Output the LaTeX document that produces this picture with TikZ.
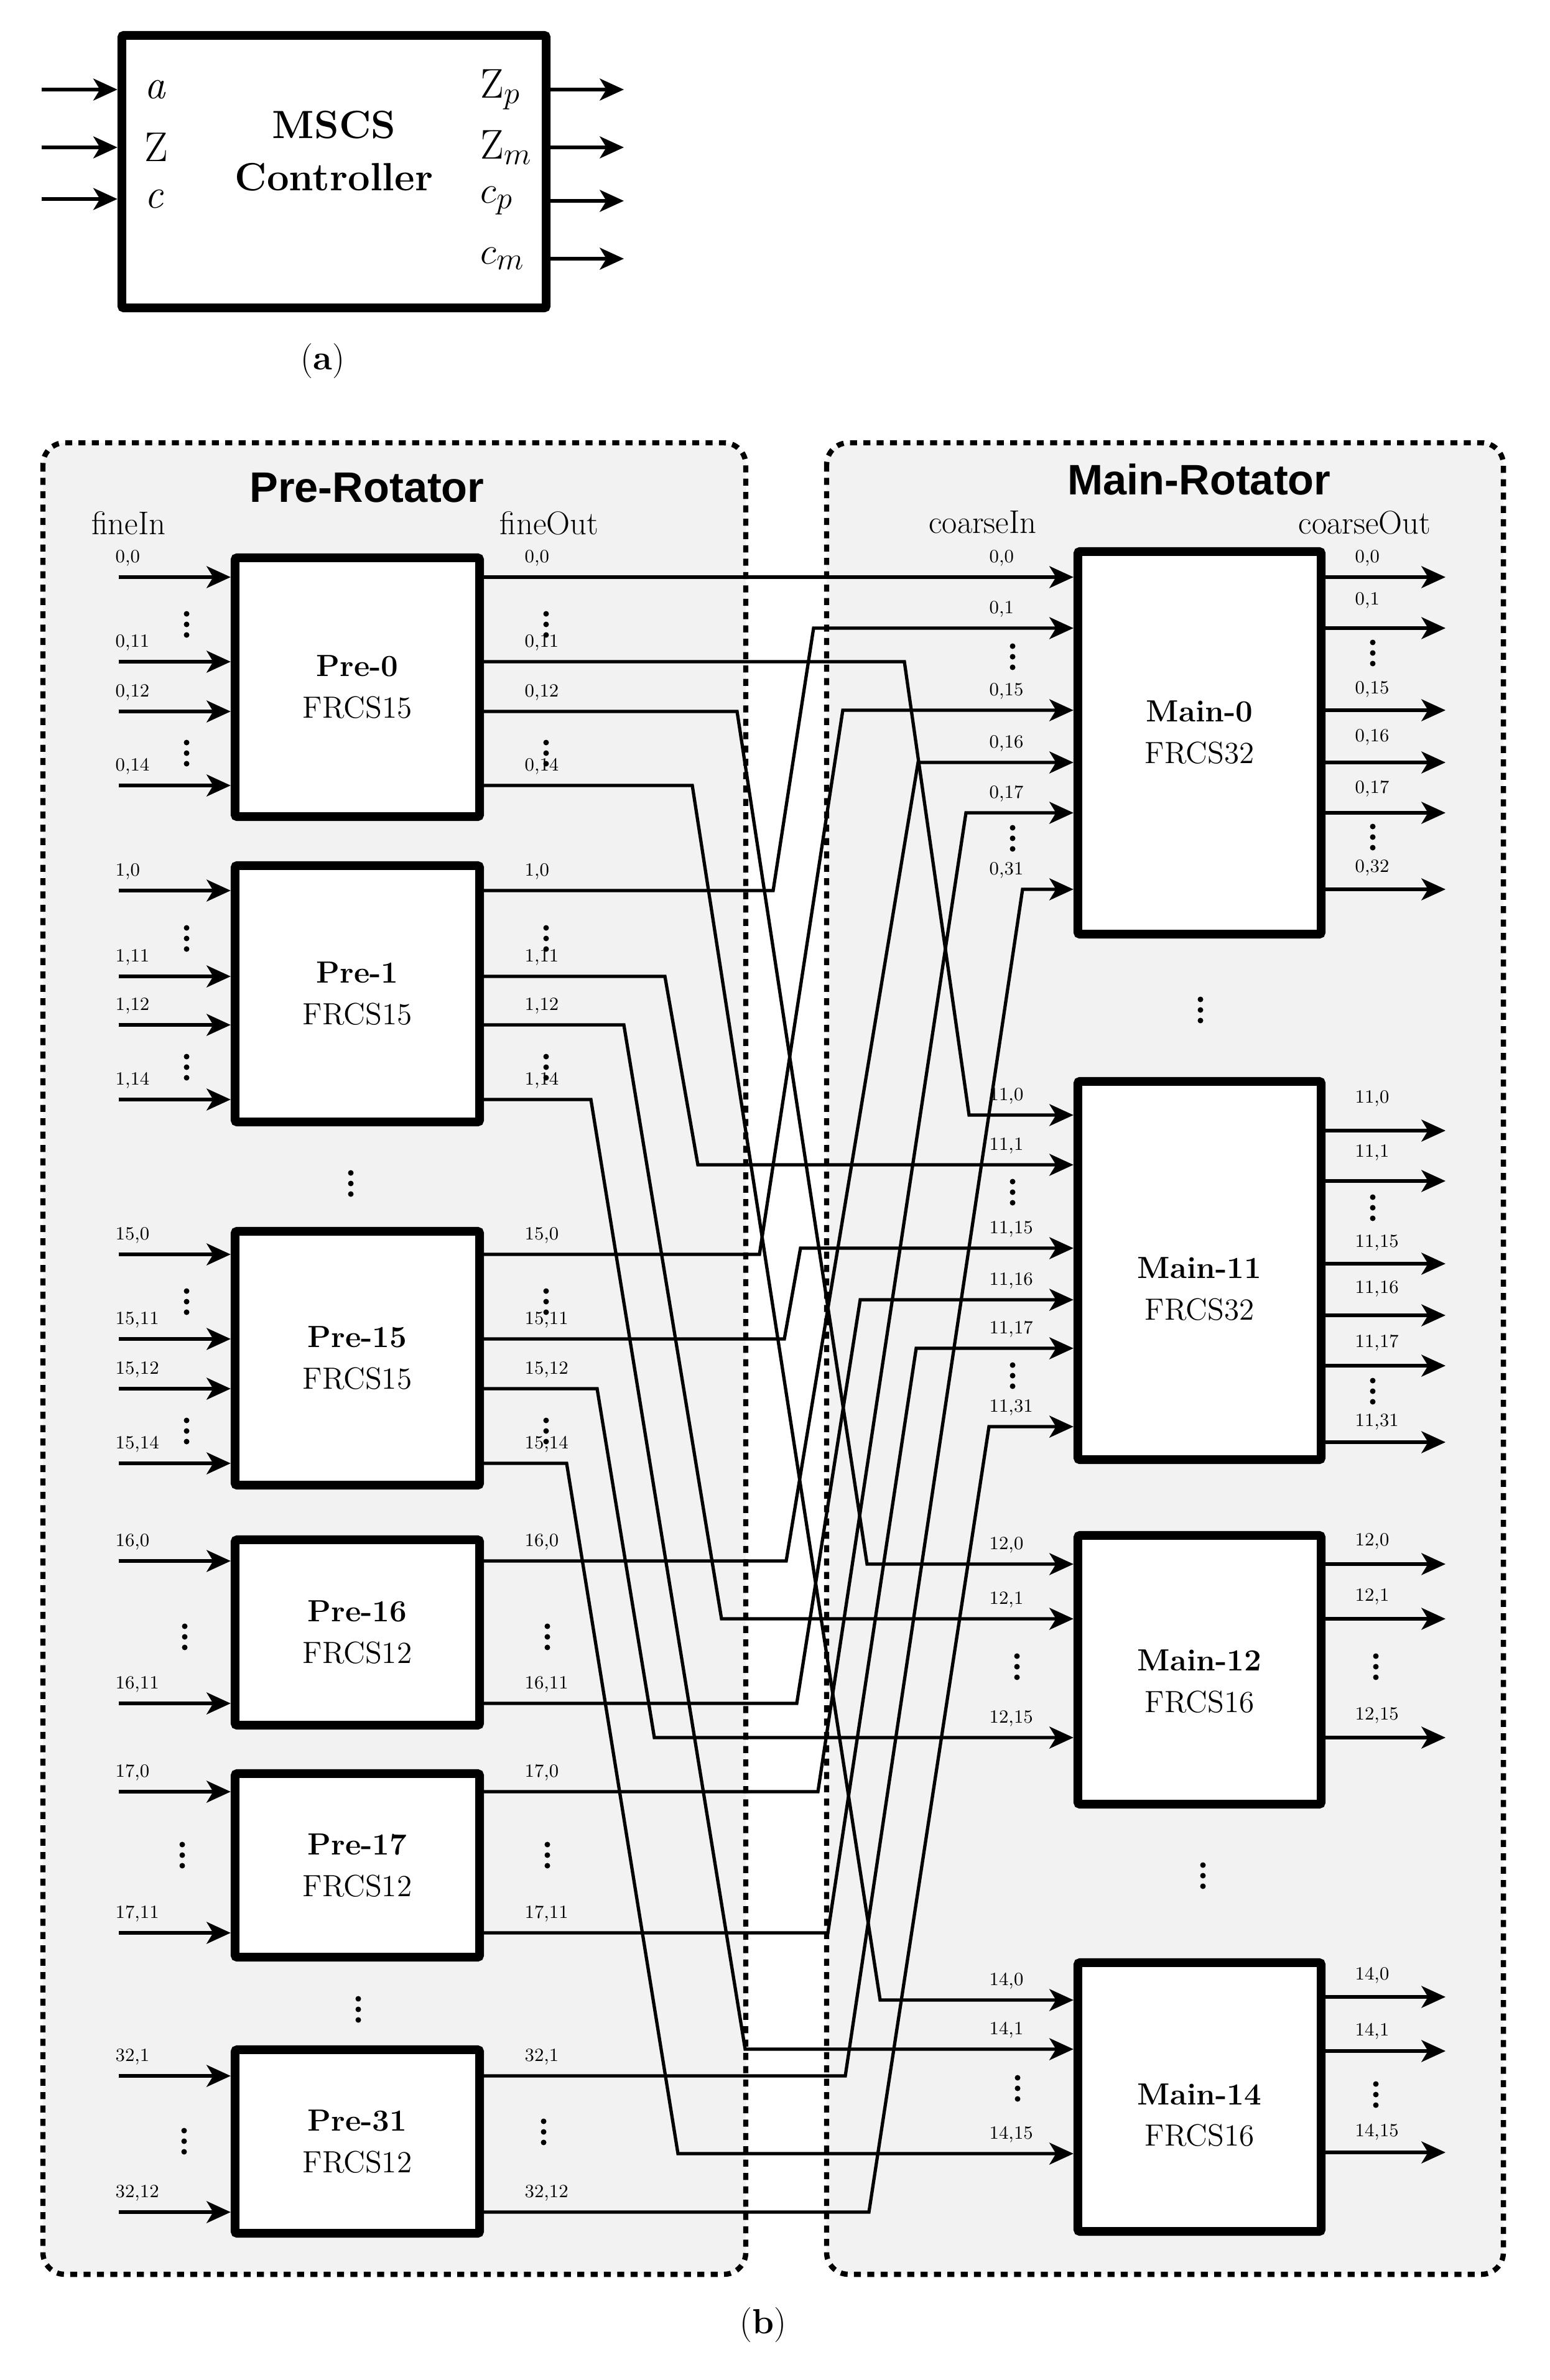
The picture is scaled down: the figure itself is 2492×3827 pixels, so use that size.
\documentclass[tikz,border=0pt]{standalone}
\usepackage{fontspec}
\newfontfamily\hsans{Liberation Sans}
\usetikzlibrary{arrows.meta}
\definecolor{bgg}{HTML}{F2F2F2}
\newcommand\pin[3]{\coordinate (q) at (191,#2); \draw[arr] (q) -- (q -| #1.west); \node[lab] at (185,#2-31) {#3};}
\newcommand\pout[4]{\coordinate (#4) at (#1.east |- 0,#2); \node[lab] at (843,#2-31) {#3};}
\newcommand\mainin[4]{\coordinate (#4) at (#1.west |- 0,#2); \node[lab] at (1590,#2-31) {#3};}
\newcommand\mainout[4]{\coordinate (q) at (#1.east |- 0,#2); \coordinate (q2) at (2324,#2); \draw[arr] (q) -- (q2); \node[lab] at (2178,#4) {#3};}
\newcommand\wire[4]{\draw[arr] (#1) -- (#1 -| #3,0) -- (#4,0 |- #2) -- (#2);}
\newcommand\vd[2]{\fill (#1,#2-17) circle[radius=4.5]; \fill (#1,#2) circle[radius=4.5]; \fill (#1,#2+17) circle[radius=4.5];}
\begin{document}
\begin{tikzpicture}[x=0.01cm,y=-0.01cm,
  blk/.style={draw,line width=4pt,fill=white,rounded corners=1pt,inner sep=0pt},
  arr/.style={line width=1.5pt,-{Stealth[length=11pt,width=10pt,inset=3pt]}},
  lab/.style={anchor=west,inner sep=0pt,font=\fontsize{8.5}{10}\selectfont},
  btxt/.style={align=center,font=\fontsize{14}{19}\selectfont},
  ttl/.style={font=\hsans\bfseries\fontsize{19.5}{22}\selectfont},
  hdr/.style={font=\fontsize{15}{18}\selectfont},
  frame/.style={draw,fill=bgg,line width=2.4pt,dash pattern=on 3.2pt off 2.9pt,rounded corners=0.35cm},
  big/.style={font=\fontsize{19}{22}\selectfont,anchor=west,inner sep=0pt}]
\useasboundingbox (0,0) rectangle (2492,3827);

% (a)
\node[blk,minimum width=6.82cm,minimum height=4.38cm] (ctl) at (537,276) {};
\node[align=center,font=\bfseries\fontsize{18}{24}\selectfont] (ctlt) at (537,243) {MSCS\\Controller};
\foreach \y/\t/\n in {144/\textit{a}/ia,237/Z/iz,320/\textit{c}/ic}{
  \coordinate (\n) at (67,\y); \draw[arr] (\n) -- (\n -| ctl.west);
  \node[big] at (232,\y) {\t};}
\foreach \y/\t/\n in {144/{Z$_{p}$}/oa,237/{Z$_{m}$}/ob,323/{$c_{p}$}/oc,416/{$c_{m}$}/od}{
  \coordinate (\n) at (1003,\y); \draw[arr] (\n -| ctl.east) -- (\n);
  \node[big] at (772,\y) {\t};}
\node[font=\fontsize{16}{19}\selectfont] (capa) at (519,580) {(\textbf{a})};
\node[font=\fontsize{16}{19}\selectfont] (capb) at (1227,3738) {(\textbf{b})};

% frames
\draw[frame] (69,712) rectangle (1199,3657);
\draw[frame] (1329,712) rectangle (2417,3657);
\node[ttl] (pt) at (590,784) {Pre-Rotator};
\node[ttl] (mt) at (1928,771) {Main-Rotator};
\node[hdr] (fi) at (207,841) {fineIn};
\node[hdr] (fo) at (883,841) {fineOut};
\node[hdr] (ci) at (1580,840) {coarseIn};
\node[hdr] (co) at (2194,840) {coarseOut};

% pre boxes
\node[blk,minimum width=3.93cm,minimum height=4.16cm] (p0) at (574.5,1105) {};
\node[blk,minimum width=3.93cm,minimum height=4.12cm] (p1) at (574.5,1598) {};
\node[blk,minimum width=3.93cm,minimum height=4.08cm] (p15) at (574.5,2184) {};
\node[blk,minimum width=3.93cm,minimum height=2.98cm] (p16) at (574.5,2625) {};
\node[blk,minimum width=3.93cm,minimum height=2.95cm] (p17) at (574.5,2999.5) {};
\node[blk,minimum width=3.93cm,minimum height=2.95cm] (p31) at (574.5,3443.5) {};
\foreach \n/\a/\b in {p0/0/15,p1/1/15,p15/15/15,p16/16/12,p17/17/12,p31/31/12}
  \node[btxt] at (\n) {\textbf{Pre-\a}\\FRCS\b};
\vd{564}{1903}
\vd{576}{3231}

% main boxes
\node[blk,minimum width=3.91cm,minimum height=6.15cm] (m0) at (1928.5,1194.5) {};
\node[blk,minimum width=3.91cm,minimum height=6.08cm] (m11) at (1928.5,2043) {};
\node[blk,minimum width=3.91cm,minimum height=4.32cm] (m12) at (1928.5,2685) {};
\node[blk,minimum width=3.91cm,minimum height=4.32cm] (m14) at (1928.5,3372) {};
\node[btxt] at (1928.5,1178) {\textbf{Main-0}\\FRCS32};
\node[btxt] at (1928.5,2073) {\textbf{Main-11}\\FRCS32};
\node[btxt] at (1928.5,2704) {\textbf{Main-12}\\FRCS16};
\node[btxt] at (1928.5,3401) {\textbf{Main-14}\\FRCS16};
\vd{1930}{1624}
\vd{1934}{3016}

% pre inputs / outputs
\pin{p0}{928}{0,0} \pin{p0}{1064}{0,11} \pin{p0}{1144}{0,12} \pin{p0}{1263}{0,14}
\vd{300}{1004} \vd{300}{1211}
\pout{p0}{928}{0,0}{o0x0} \pout{p0}{1064}{0,11}{o0x11} \pout{p0}{1144}{0,12}{o0x12} \pout{p0}{1263}{0,14}{o0x14}
\vd{878}{1004} \vd{878}{1211}
\pin{p1}{1432}{1,0} \pin{p1}{1570}{1,11} \pin{p1}{1648}{1,12} \pin{p1}{1768}{1,14}
\vd{300}{1509} \vd{300}{1716}
\pout{p1}{1432}{1,0}{o1x0} \pout{p1}{1570}{1,11}{o1x11} \pout{p1}{1648}{1,12}{o1x12} \pout{p1}{1768}{1,14}{o1x14}
\vd{878}{1509} \vd{878}{1716}
\pin{p15}{2017}{15,0} \pin{p15}{2153}{15,11} \pin{p15}{2233}{15,12} \pin{p15}{2353}{15,14}
\vd{300}{2093} \vd{300}{2301}
\pout{p15}{2017}{15,0}{o15x0} \pout{p15}{2153}{15,11}{o15x11} \pout{p15}{2233}{15,12}{o15x12} \pout{p15}{2353}{15,14}{o15x14}
\vd{878}{2093} \vd{878}{2301}
\pin{p16}{2510}{16,0} \pin{p16}{2739}{16,11}
\vd{297}{2632}
\pout{p16}{2510}{16,0}{o16x0} \pout{p16}{2739}{16,11}{o16x11}
\vd{880}{2632}
\pin{p17}{2881}{17,0} \pin{p17}{3108}{17,11}
\vd{293}{2983}
\pout{p17}{2881}{17,0}{o17x0} \pout{p17}{3108}{17,11}{o17x11}
\vd{880}{2983}
\pin{p31}{3338}{32,1} \pin{p31}{3557}{32,12}
\vd{296}{3443}
\pout{p31}{3338}{32,1}{o31x1} \pout{p31}{3557}{32,12}{o31x12}
\vd{874}{3428}

% main inputs / outputs
\mainin{m0}{928}{0,0}{i0x0} \mainin{m0}{1010}{0,1}{i0x1} \mainin{m0}{1142}{0,15}{i0x15}
\mainin{m0}{1226}{0,16}{i0x16} \mainin{m0}{1307}{0,17}{i0x17} \mainin{m0}{1430}{0,31}{i0x31}
\vd{1628}{1056} \vd{1628}{1348}
\mainout{m0}{928}{0,0}{897} \mainout{m0}{1010}{0,1}{965} \mainout{m0}{1142}{0,15}{1108}
\mainout{m0}{1226}{0,16}{1185} \mainout{m0}{1307}{0,17}{1268} \mainout{m0}{1430}{0,32}{1395}
\vd{2207}{1050} \vd{2207}{1346}
\mainin{m11}{1793}{11,0}{i11x0} \mainin{m11}{1873}{11,1}{i11x1} \mainin{m11}{2007}{11,15}{i11x15}
\mainin{m11}{2090}{11,16}{i11x16} \mainin{m11}{2168}{11,17}{i11x17} \mainin{m11}{2294}{11,31}{i11x31}
\vd{1628}{1917} \vd{1628}{2212}
\mainout{m11}{1818}{11,0}{1766} \mainout{m11}{1899}{11,1}{1853} \mainout{m11}{2032}{11,15}{1998}
\mainout{m11}{2115}{11,16}{2072} \mainout{m11}{2196}{11,17}{2159} \mainout{m11}{2319}{11,31}{2286}
\vd{2207}{1942} \vd{2207}{2237}
\mainin{m12}{2515}{12,0}{i12x0} \mainin{m12}{2603}{12,1}{i12x1} \mainin{m12}{2794}{12,15}{i12x15}
\vd{1635}{2680}
\mainout{m12}{2515}{12,0}{2478} \mainout{m12}{2603}{12,1}{2567} \mainout{m12}{2794}{12,15}{2758}
\vd{2212}{2680}
\mainin{m14}{3216}{14,0}{i14x0} \mainin{m14}{3295}{14,1}{i14x1} \mainin{m14}{3463}{14,15}{i14x15}
\vd{1636}{3358}
\mainout{m14}{3211}{14,0}{3176} \mainout{m14}{3298}{14,1}{3266} \mainout{m14}{3461}{14,15}{3428}
\vd{2212}{3368}

% interconnect
\draw[arr] (o0x0) -- (i0x0);
\wire{o1x0}{i0x1}{1243}{1308}
\wire{o15x0}{i0x15}{1221}{1355}
\wire{o16x0}{i0x16}{1264}{1476}
\wire{o17x0}{i0x17}{1315}{1553}
\wire{o31x1}{i0x31}{1359}{1644}
\wire{o0x11}{i11x0}{1454}{1558}
\wire{o1x11}{i11x1}{1069}{1122}
\wire{o15x11}{i11x15}{1261}{1287}
\wire{o16x11}{i11x16}{1281}{1383}
\wire{o17x11}{i11x17}{1331}{1473}
\wire{o31x12}{i11x31}{1397}{1590}
\wire{o0x12}{i12x0}{1185}{1394}
\wire{o1x12}{i12x1}{1003}{1160}
\wire{o15x12}{i12x15}{960}{1052}
\wire{o0x14}{i14x0}{1113}{1415}
\wire{o1x14}{i14x1}{950}{1198}
\wire{o15x14}{i14x15}{911}{1090}
\end{tikzpicture}
\end{document}
